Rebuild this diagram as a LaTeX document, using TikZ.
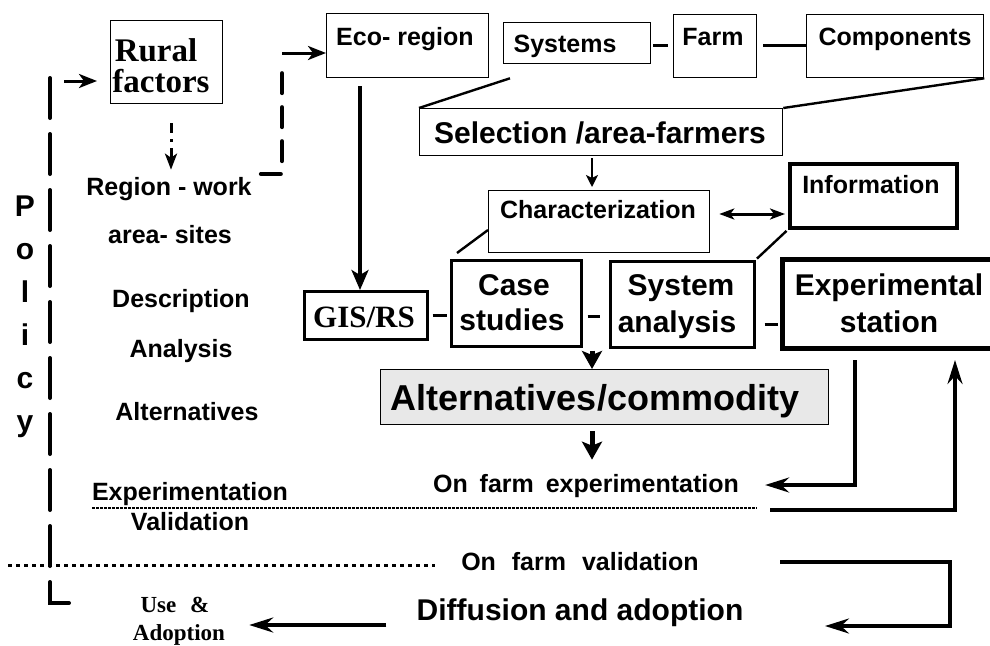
\documentclass[tikz,border=0pt]{standalone}
\usepackage{fontspec}
\setmainfont{Liberation Sans}
\newfontfamily\serf{Liberation Serif}
\usetikzlibrary{arrows.meta,calc}
\begin{document}
\begin{tikzpicture}[x=1pt,y=-1pt,
  box/.style={draw, line width=1.3pt, inner sep=0pt, anchor=north west},
  tx/.style={font=\bfseries\fontsize{25}{30}\selectfont, inner sep=0pt, anchor=base},
  txL/.style={font=\bfseries\fontsize{30}{36}\selectfont, inner sep=0pt, anchor=base},
  txS/.style={font=\serf\bfseries\fontsize{23}{28}\selectfont, inner sep=0pt, anchor=base},
  conn/.style={line width=3pt},
  slant/.style={line width=2.4pt},
  arrS/.style={line width=2.6pt, -{Stealth[length=12pt,width=12pt,inset=3pt]}},
  arrM/.style={line width=3pt, -{Stealth[length=18pt,width=14pt,inset=5pt]}},
  arrG/.style={line width=3.2pt, -{Stealth[length=20pt,width=17pt,inset=5pt]}},
  arrB/.style={line width=5pt, -{Stealth[length=18pt,width=20pt,inset=4pt]}},
  arrT/.style={line width=3.3pt, -{Stealth[length=24pt,width=15pt,inset=8pt]}},
  dbl/.style={line width=3pt, {Stealth[length=15pt,width=11pt,inset=4pt]}-{Stealth[length=15pt,width=11pt,inset=4pt]}},
  poldash/.style={line width=4pt, line cap=round, dash pattern=on 40pt off 16pt},
  regdash/.style={line width=4pt, line cap=round, dash pattern=on 20pt off 14pt},
  dashdotline/.style={line width=3pt, dash pattern=on 10pt off 6pt on 3pt off 6pt},
  dotsA/.style={line width=2pt, dash pattern=on 2.5pt off 1.5pt},
  dotsB/.style={line width=3pt, dash pattern=on 3.5pt off 4.5pt}
]
\useasboundingbox (0,0) rectangle (990,645);

% ---------- boxes ----------
\node[box, minimum width=112pt, minimum height=83pt] (rural) at (110,20) {};
\node[box, minimum width=162pt, minimum height=64pt] (eco) at (326,13) {};
\node[box, minimum width=147pt, minimum height=41pt] (sys) at (503,22) {};
\node[box, minimum width=83pt, minimum height=63pt] (farm) at (673,14) {};
\node[box, minimum width=177pt, minimum height=63pt] (comp) at (806,14) {};
\node[box, minimum width=363pt, minimum height=47pt] (sel) at (419,108) {};
\node[box, minimum width=221pt, minimum height=62pt] (char) at (488,190) {};
\node[box, line width=3.5pt, minimum width=167pt, minimum height=64pt] (info) at (788,162) {};
\node[box, line width=2.5pt, minimum width=123pt, minimum height=48pt] (gis) at (303,290) {};
\node[box, line width=2.5pt, minimum width=130pt, minimum height=86pt] (case) at (450,259) {};
\node[box, line width=2.5pt, minimum width=144pt, minimum height=86pt] (sysan) at (609,260) {};
\node[box, line width=5pt, minimum width=222pt, minimum height=89pt] (exp) at (780,257) {};
\node[box, fill=black!9, minimum width=448pt, minimum height=55pt] (alt) at (380,369) {};

% ---------- texts ----------
\node[font=\serf\bfseries\fontsize{33}{31}\selectfont, inner sep=0pt, anchor=base] (ruralA) at (156,61) {Rural};
\node[font=\serf\bfseries\fontsize{33}{31}\selectfont, inner sep=0pt, anchor=base] (ruralB) at (161,92) {factors};
\node[tx] (ecoT) at (405,45) {Eco- region};
\node[tx] (sysT) at (565,52) {Systems};
\node[tx] (farmT) at (713,45) {Farm};
\node[tx] (compT) at (895,45) {Components};
\node[txL] (selT) at (600,143) {Selection /area-farmers};
\node[tx] (charT) at (598,218) {Characterization};
\node[tx] (infoT) at (871,193) {Information};
\node[font=\serf\bfseries\fontsize{31}{31}\selectfont, inner sep=0pt, anchor=base] (gisT) at (364,327) {GIS/RS};
\node[txL] (caseA) at (514,295) {Case};
\node[txL] (caseB) at (512,330) {studies};
\node[txL] (sysanA) at (681,295) {System};
\node[txL] (sysanB) at (677,332) {analysis};
\node[txL] (expA) at (889,295) {Experimental};
\node[txL] (expB) at (889,332) {station};
\node[font=\bfseries\fontsize{36}{40}\selectfont, inner sep=0pt, anchor=base] (altT) at (595,410) {Alternatives/commodity};
\node[tx] (onexp) at (586,492) {On\hspace{5pt} farm\hspace{5pt} experimentation};
\node[tx] (onval) at (580,570) {On\hspace{9pt} farm\hspace{9pt} validation};
\node[font=\bfseries\fontsize{30}{36}\selectfont, inner sep=0pt, anchor=base] (diff) at (580,620) {Diffusion and adoption};
\node[txS] (useA) at (175,612) {Use\hspace{0.6em}\&};
\node[txS] (useB) at (179,640) {Adoption};

\node[tx] (reg) at (169,195) {Region - work};
\node[tx] (areaT) at (170,243) {area- sites};
\node[tx] (descT) at (181,307) {Description};
\node[tx] (anaT) at (181,357) {Analysis};
\node[tx] (altsT) at (187,420) {Alternatives};
\node[tx] (expmT) at (190,500) {Experimentation};
\node[tx] (valT) at (190,530) {Validation};

\node[font=\bfseries\fontsize{30}{43}\selectfont, inner sep=0pt, align=center, anchor=north] (policy) at (25,196) {P\\o\\l\\i\\c\\y};

% ---------- helper coordinates ----------
\coordinate (polTop) at (50,78);
\coordinate (polBot) at (50,603);
\coordinate (polEnd) at (80,603);
\coordinate (polArr) at (64,81);
\coordinate (xRur) at (171,0);
\coordinate (regC) at (282,174);
\coordinate (regTop) at (282,62);
\coordinate (ecoIn) at (282,53);
\coordinate (xGis) at (360,0);
\coordinate (y45) at (0,45);
\coordinate (xMid) at (592,0);
\coordinate (y214) at (0,214);
\coordinate (y230) at (0,230);
\coordinate (y316) at (0,316);
\coordinate (y324) at (0,324);
\coordinate (xExpL) at (855,0);
\coordinate (xExpR) at (955,0);
\coordinate (y485) at (0,485);
\coordinate (loopS) at (770,510);
\coordinate (valS) at (780,562);
\coordinate (valC) at (950,626);
\coordinate (valE) at (825,626);
\coordinate (y625) at (0,625);
\coordinate (dotA1) at (92,508);
\coordinate (dotA2) at (757,508);
\coordinate (dotB1) at (8,565);
\coordinate (dotB2) at (435,565);

% ---------- connectors ----------
\draw[poldash] (polTop) -- (polBot) -- (polEnd);
\draw[arrM, shorten >=13pt] (polArr) -- (polArr -| rural.west);
\draw[dashdotline, -{Stealth[length=16pt,width=12pt,inset=4pt]}, shorten <=19pt, shorten >=7pt] (rural.south -| xRur) -- (reg.north -| xRur);
\draw[regdash, shorten <=9pt] (reg.east |- regC) -- (regC) -- (regTop);
\draw[arrM] (ecoIn) -- (ecoIn -| eco.west);
\draw[arrG, shorten <=8pt] (eco.south -| xGis) -- (gis.north -| xGis);

\draw[conn, shorten <=2pt, shorten >=5pt] (sys.east |- y45) -- (farm.west |- y45);
\draw[conn, shorten <=6pt] (farm.east |- y45) -- (comp.west |- y45);
\draw[slant] ($(sys.south west)+(7,14)$) -- (sel.north west);
\draw[slant] (comp.south east) -- (sel.north east);
\draw[arrS, shorten <=2pt, shorten >=3pt] (sel.south -| xMid) -- (char.north -| xMid);
\draw[dbl, shorten <=9pt, shorten >=3pt] (char.east |- y214) -- (info.west |- y214);
\draw[slant] (char.west |- y230) -- ($(case.north west)+(7,-6)$);
\draw[slant, shorten <=2pt, shorten >=2pt] (info.south west) -- (sysan.north east);
\draw[conn, shorten <=4pt, shorten >=3pt] (gis.east) -- (case.west |- gis.east);
\draw[conn, shorten <=5pt, shorten >=9pt] (case.east |- y316) -- (sysan.west |- y316);
\draw[conn, shorten <=9pt, shorten >=2pt] (sysan.east |- y324) -- (exp.west |- y324);
\draw[arrB, shorten <=3pt] (case.south -| xMid) -- (alt.north -| xMid);
\draw[arrB, shorten <=6pt, shorten >=14pt] (alt.south -| xMid) -- (onexp.north -| xMid);

\draw[arrT, shorten <=9pt, shorten >=26pt] (exp.south -| xExpL) -- (xExpL |- y485) -- (onexp.east |- y485);
\draw[arrT, shorten >=9pt] (loopS) -- (loopS -| xExpR) -- (exp.south -| xExpR);
\draw[arrT] (valS) -- (valS -| valC) -- (valC) -- (valE);
\draw[arrT, shorten <=30pt, shorten >=24pt] (diff.west |- y625) -- (useB.east |- y625);

\draw[dotsA] (dotA1) -- (dotA2);
\draw[dotsB] (dotB1) -- (dotB2);
\end{tikzpicture}
\end{document}
